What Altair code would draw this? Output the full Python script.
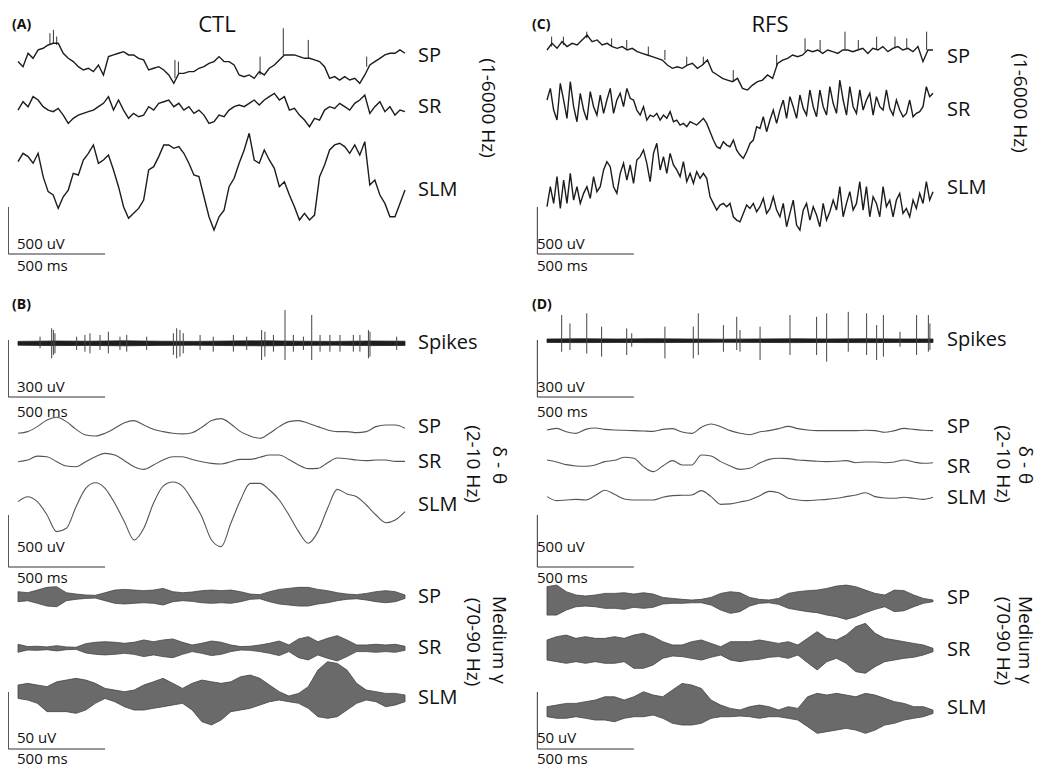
import altair as alt
import numpy as np
import pandas as pd

# ---------------- data (values in µV) ----------------
# wide-band (1-6000 Hz) traces, uniformly sampled over 0-2000 ms
raw_ctl_sp = [18,-36,107,53,142,160,195,213,213,107,53,18,-36,-71,-53,-89,-18,-124,71,89,
              107,124,89,89,53,36,-71,-53,-36,-71,-124,-213,-107,-107,-89,-89,-53,-36,0,18,
              71,18,18,-18,-124,-142,-124,-160,-89,-124,-53,-18,36,89,89,89,71,53,53,36,
              18,-36,-160,-142,-178,-142,-178,-160,-213,-124,-18,18,53,89,107,107,142,107]
raw_ctl_sr = [-36,53,0,107,71,0,-36,-53,-18,-89,-178,-124,-89,-71,-53,-36,0,36,107,-36,
              71,-36,-124,-71,-107,-89,0,-36,36,53,71,0,36,-36,0,-71,-36,-89,-178,-160,
              -89,-107,-36,0,18,0,36,71,18,71,107,142,71,107,-36,-18,-89,-142,-213,-124,
              -142,-36,0,-18,36,0,-36,36,71,124,-71,0,53,-53,0,-89,-36,-53]
raw_ctl_slm = [195,284,249,178,284,36,-124,-160,-302,-178,-107,71,53,213,284,373,178,213,266,107,
               -71,-284,-408,-355,-302,-213,107,142,249,373,373,337,355,284,178,53,36,-178,-391,-533,
               -391,-320,-71,18,178,320,497,213,178,320,213,124,-71,-18,-160,-284,-426,-355,-426,-373,
               36,160,320,373,391,355,284,373,266,408,-53,0,-160,-249,-391,-391,-249,-107]
raw_rfs_sp = [0,71,18,89,36,71,53,107,160,89,107,53,71,36,18,36,0,18,-18,-36,
              -53,-71,-89,-107,-160,-195,-178,-195,-160,-142,-195,-160,-107,-231,-266,-302,-320,-337,-302,-408,
              -426,-373,-337,-320,-266,-302,-142,-107,-89,-53,-71,-53,0,-18,0,-36,0,-18,-36,0,
              0,-18,0,18,-36,18,0,36,-18,18,36,0,18,-18,36,-124,0,0]
raw_rfs_sr = [71,195,-36,-142,249,71,-124,266,0,-160,142,-36,-142,160,0,-89,124,-71,71,195,
              -71,71,142,0,195,89,71,-36,-89,0,-142,-89,-107,-71,-142,-89,-124,-53,-160,-142,
              -195,-178,-213,-160,-178,-195,-160,-124,-178,-266,-355,-426,-444,-373,-408,-426,-355,-462,-515,-550,
              -479,-391,-355,-213,-231,-107,-266,-142,-36,-178,-36,71,-124,107,0,-124,124,-18,-89,178,
              0,-107,178,0,-89,213,36,-71,284,71,-89,213,0,-71,178,-36,71,142,-89,107,
              0,-36,178,-18,-89,71,-36,-107,-71,71,-107,-71,-53,0,213,107,142]
raw_rfs_slm = [-213,0,-178,107,-231,71,-178,142,-142,0,-178,-71,0,-124,107,-53,0,178,266,213,
               0,-71,142,249,71,231,36,284,320,391,249,53,355,462,178,320,142,355,231,178,
               107,266,53,142,36,160,89,142,89,-107,-178,-249,-195,-178,-213,-178,-320,-355,-373,-284,
               -195,-231,-178,-266,-213,-124,-284,-231,-107,-249,-320,-178,-426,-284,-142,-408,-462,-249,-178,-355,
               -213,-302,-426,-178,-355,-266,-142,-249,0,-320,-178,-53,-249,-178,53,-249,0,-320,-107,-178,
               -320,0,-213,-142,-320,-142,-71,-284,-231,-320,-142,-231,-71,-178,53,-142,-53]

# fast transients riding on the SP wide-band traces: time (ms), from (µV), tip (µV)
tr_ctl_t = [165,183,200,811,829,1251,1371,1500,1802]
tr_ctl_from = [195,213,195,-160,-107,-124,89,53,-36]
tr_ctl_tip = [320,355,284,36,18,71,373,249,71]
tr_rfs_t = [24,85,206,335,413,525,611,724,810,965,1190,1337,1415,1544,1613,1708,1803,1864,1967]
tr_rfs_from = [36,53,124,36,0,-53,-107,-160,-160,-337,-178,-18,-18,0,0,0,18,18,0]
tr_rfs_tip = [142,142,195,124,107,36,0,-71,-71,-213,-53,124,107,195,107,142,142,124,195]

# spikes: time (ms), top and bottom deflection (µV)
spk_ctl_t = [114,174,183,191,303,346,372,424,467,527,562,665,803,820,837,854,941,1009,1113,1182,
             1259,1276,1320,1380,1423,1475,1518,1561,1612,1664,1733,1767,1811,1819,1957]
spk_ctl_top = [35,79,70,53,35,44,53,44,61,35,44,35,53,79,70,53,44,35,44,35,
               70,61,44,175,44,35,149,44,44,44,44,44,70,61,35]
spk_ctl_bot = [-26,-79,-61,-53,-35,-44,-53,-35,-53,-35,-44,-35,-61,-79,-70,-53,-35,-44,-44,-35,
               -88,-70,-44,-88,-44,-35,-88,-44,-44,-44,-44,-44,-79,-70,-35]
spk_rfs_t = [76,119,206,283,413,439,611,758,784,914,983,1000,1104,1259,1397,1449,1561,1656,1708,1743,
             1829,1915,1976,1984]
spk_rfs_top = [135,91,144,74,65,39,74,74,144,82,126,56,74,135,126,144,152,144,82,135,47,135,135,91]
spk_rfs_bot = [-58,-49,-67,-84,-75,-32,-93,-93,-75,-58,-49,-58,-102,-75,-75,-110,-58,-75,-102,-84,
               -32,-75,-58,-49]
band_ctl_hi = [10,12,11,13,11,10,12,13,11,10,12,11]
band_ctl_lo = [-10,-12,-11,-13,-11,-10,-12,-13,-11,-10,-12,-11]
band_rfs_hi = [9,10,9,10,9,8,9,10,9,10,9,9]
band_rfs_lo = [-9,-10,-9,-10,-9,-8,-9,-10,-9,-10,-9,-9]

# delta-theta (2-10 Hz) traces
dt_ctl_sp = [-48,-32,16,80,106,64,-10,-64,-74,-48,0,54,74,32,-10,-32,-48,-54,-42,10,
             74,93,42,-32,-74,-96,-48,16,64,74,48,16,-16,-32,-32,-42,-32,16,32,32,0]
dt_ctl_sr = [0,16,54,48,0,-42,-48,0,48,80,64,10,-48,-74,-32,16,48,48,22,0,
             -16,-22,0,22,22,42,64,64,22,-32,-67,-64,-10,35,29,16,10,16,16,3,3]
dt_ctl_slm = [80,128,80,-48,-208,-176,32,208,262,208,64,-112,-288,-176,64,230,269,230,96,-64,
              -288,-352,-128,96,256,256,192,96,-48,-208,-320,-208,16,198,154,128,48,-48,-122,-96,-16]
dt_rfs_sp = [0,16,-16,-32,6,19,6,0,-3,-6,-10,-13,6,13,-19,-32,26,58,32,-6,
             -32,-45,-19,-6,13,35,13,0,-6,-6,-6,-6,-6,-3,-6,-22,-6,16,6,-3,-6]
dt_rfs_sr = [32,13,-13,-26,-29,-16,16,29,58,48,-32,-80,-26,26,-16,-16,80,70,16,-26,
             -58,-48,0,38,48,45,32,26,19,16,19,26,6,13,13,6,13,32,13,0,6]
dt_rfs_slm = [16,-22,-16,-10,-16,26,77,38,-6,-16,-16,-16,10,26,29,32,74,16,-58,-54,
              -35,-16,22,67,54,0,-16,-22,-16,-10,0,16,32,54,16,3,0,10,0,-10,10]

# medium gamma (70-90 Hz): upper / lower envelope (µV)
g_ctl_sp_hi = [4.4,3.5,5.8,8.2,8.8,3.5,2.3,1.5,1.2,3.5,5.8,6.4,5.8,5.3,5.8,7.3,4.4,3.5,4.1,5.3,
               5.8,5.3,5.8,4.4,2.3,1.8,4.4,6.4,7.3,8.2,8.2,6.4,5.3,3.5,2.3,1.8,2.9,4.4,5.3,4.4,1.5]
g_ctl_sp_lo = [-4.4,-3.5,-5.8,-8.2,-8.8,-3.5,-2.3,-1.5,-1.2,-3.5,-5.8,-6.4,-5.8,-5.3,-5.8,-7.3,-4.4,-3.5,-4.1,-5.3,
               -5.8,-5.3,-5.8,-4.4,-2.3,-1.8,-4.4,-6.4,-7.3,-8.2,-8.2,-6.4,-5.3,-3.5,-2.3,-1.8,-2.9,-4.4,-5.3,-4.4,-1.5]
g_ctl_sr_hi = [3.5,1.5,1.8,1.2,2.3,1.2,0.9,4.1,5.3,5.8,5.3,4.4,5.3,7.3,5.8,7.3,8.2,5.3,2.9,4.4,
               6.4,5.3,2.9,1.5,1.8,2.9,4.4,6.4,2.9,8.2,10.2,5.8,8.8,11.1,7.3,2.9,2.9,3.5,2.9,3.5,1.8]
g_ctl_sr_lo = [-3.5,-1.5,-1.8,-1.2,-2.3,-1.2,-0.9,-4.1,-5.3,-5.8,-5.3,-4.4,-5.3,-7.3,-5.8,-7.3,-8.2,-5.3,-2.9,-4.4,
               -6.4,-5.3,-2.9,-1.5,-1.8,-2.9,-4.4,-6.4,-2.9,-8.2,-10.2,-5.8,-8.8,-11.1,-7.3,-2.9,-2.9,-3.5,-2.9,-3.5,-1.8]
g_ctl_slm_hi = [10.2,11.7,10.2,8.8,13.1,14.6,16.1,14.6,11.7,7.3,5.8,4.4,5.8,10.2,13.1,16.1,11.7,7.3,11.7,14.6,
                13.1,11.7,13.1,17.5,19.0,16.1,10.2,4.4,0.6,2.9,8.8,23.4,30.7,29.2,23.4,11.7,5.8,4.4,2.9,2.9,1.5]
g_ctl_slm_lo = [-1.5,-2.9,-5.8,-13.1,-13.1,-13.1,-14.6,-11.7,-5.8,-1.5,-4.4,-8.8,-11.7,-11.7,-10.2,-8.8,-7.3,-5.8,-11.7,-21.9,
                -24.8,-20.4,-13.1,-11.7,-10.2,-7.3,-4.4,-2.9,-4.4,-5.8,-10.2,-17.5,-19.0,-17.5,-11.7,-5.8,-2.9,-4.4,-8.8,-7.3,-4.4]
g_rfs_sp_hi = [12.3,13.7,7.9,5.0,4.1,5.0,6.4,6.4,7.0,5.8,7.0,5.8,2.9,2.0,1.2,0.6,1.2,2.9,6.4,7.9,
               7.0,2.9,1.2,0.6,2.0,6.4,7.9,8.8,9.3,10.8,12.8,13.7,12.3,9.3,6.4,5.0,9.3,8.8,5.0,2.0,0.6]
g_rfs_sp_lo = [-12.6,-12.6,-8.2,-5.3,-4.7,-5.3,-6.7,-6.7,-7.6,-5.8,-6.7,-5.8,-2.9,-2.3,-2.3,-1.8,-1.8,-3.8,-8.2,-11.1,
               -9.6,-4.7,-2.3,-1.8,-3.2,-6.7,-8.2,-9.6,-10.5,-12.6,-14.0,-16.4,-14.0,-10.5,-7.6,-5.3,-9.6,-8.8,-5.3,-2.3,-0.9]
g_rfs_sr_hi = [8.8,11.7,13.1,10.2,11.7,10.2,10.2,11.7,10.2,13.1,14.6,11.7,7.3,4.4,4.4,7.3,8.8,5.8,2.9,7.3,
               7.3,7.3,8.8,7.3,5.8,7.3,4.4,10.2,16.1,10.2,8.8,13.1,20.4,23.4,14.6,10.2,8.8,7.3,5.8,4.4,1.5]
g_rfs_sr_lo = [-8.8,-10.2,-11.7,-10.2,-11.7,-10.2,-11.7,-11.7,-10.2,-16.1,-16.1,-13.1,-7.3,-5.3,-5.8,-7.3,-8.8,-6.4,-4.4,-8.8,
               -10.2,-8.8,-8.2,-6.4,-5.8,-7.3,-4.4,-11.1,-17.5,-10.2,-7.3,-11.7,-19.0,-20.4,-14.6,-10.2,-8.8,-7.3,-6.4,-4.4,-1.5]
g_rfs_slm_hi = [4.4,5.8,7.3,7.3,8.8,10.2,13.1,13.1,10.2,13.1,17.5,14.6,13.1,19.0,24.8,23.4,20.4,10.2,5.8,2.9,
                1.5,4.4,5.8,4.4,1.5,4.4,2.9,13.1,16.1,14.6,16.1,14.6,13.1,16.1,14.6,11.7,8.8,7.3,4.4,4.4,1.5]
g_rfs_slm_lo = [-4.4,-5.8,-5.8,-4.4,-5.8,-7.3,-7.3,-8.8,-5.8,-4.4,-4.4,-2.9,-5.8,-10.2,-11.7,-11.7,-10.2,-5.8,-4.4,-4.4,
                -3.8,-4.4,-5.8,-4.4,-4.4,-5.8,-7.3,-13.1,-19.0,-17.5,-16.1,-14.6,-16.1,-19.0,-16.1,-11.7,-10.2,-7.3,-5.8,-4.4,-1.5]

layer_names = ["SP", "SR", "SLM"]

# ---------------- layout ----------------
H = 760
G_RAW, G_SPK, G_DT, G_GAM = 0.094, 0.19, 0.104, 1.14   # px per µV in each block
FONT = "Open Sans"
INK = "#111111"

SIDES = {
    "ctl": dict(x0=18, px=0.1935, page_left=8, width=520),
    "rfs": dict(x0=547, px=0.193, page_left=528, width=514),
}


def tx(side, page_x):
    s = SIDES[side]
    return (page_x - s["x0"]) / s["px"]


def line_df(vals, base, gain, name):
    v = np.array(vals, dtype=float)
    t = np.linspace(0, 2000, len(v))
    return pd.DataFrame({"t": t, "y": base - v * gain, "trace": name})


def env_df(hi, lo, base, gain, name):
    t = np.linspace(0, 2000, len(hi))
    return pd.DataFrame({"t": t, "yu": base - np.array(hi) * gain,
                         "yl": base - np.array(lo) * gain, "trace": name})


def build(side, raw, raw_base, trans, spk, band, spk_base, dt, dt_base, gam, gam_base,
          labels, title, letters, rot):
    s = SIDES[side]
    lo = (s["page_left"] - s["x0"]) / s["px"]
    hi = (s["page_left"] + s["width"] - s["x0"]) / s["px"]
    xs = alt.Scale(domain=[lo, hi], nice=False, zero=False)
    ys = alt.Scale(domain=[0, H], nice=False, zero=False, reverse=True)
    X = lambda f: alt.X(f, scale=xs, axis=None)
    Y = lambda f: alt.Y(f, scale=ys, axis=None)

    raw_df = pd.concat([line_df(v, b, G_RAW, side + n) for v, b, n in zip(raw, raw_base, layer_names)])
    tt, tf, tp = trans
    tr_df = pd.DataFrame({"t": tt, "y1": raw_base[0] - np.array(tf) * G_RAW,
                          "y2": raw_base[0] - np.array(tp) * G_RAW})
    dt_df = pd.concat([line_df(v, b, G_DT, side + n) for v, b, n in zip(dt, dt_base, layer_names)])
    gam_df = pd.concat([env_df(h, l, b, G_GAM, side + n) for (h, l), b, n in zip(gam, gam_base, layer_names)])
    band_df = env_df(band[0], band[1], spk_base, G_SPK, side + "band")
    st, stop, sbot = spk
    spk_df = pd.DataFrame({"t": st, "yt": spk_base - np.array(stop) * G_SPK,
                           "yb": spk_base - np.array(sbot) * G_SPK})

    # scale bars: 500 ms wide, heights in µV of each block
    bars = []
    for bottom, uv, gain in [(246, 500, G_RAW), (389, 300, G_SPK), (559, 500, G_DT), (741, 50, G_GAM)]:
        bars.append(dict(x=-50, x2=-50, y=bottom - uv * gain, y2=bottom))
        bars.append(dict(x=-50, x2=450, y=bottom, y2=bottom))
    bar_df = pd.DataFrame(bars)

    tx_page = s["page_left"] + 9
    scale_txt = pd.DataFrame([
        dict(x=tx(side, tx_page), y=236, text="500 uV"), dict(x=tx(side, tx_page), y=258, text="500 ms"),
        dict(x=tx(side, tx_page), y=379, text="300 uV"), dict(x=tx(side, tx_page), y=404, text="500 ms"),
        dict(x=tx(side, tx_page), y=539, text="500 uV"), dict(x=tx(side, tx_page), y=570, text="500 ms"),
        dict(x=tx(side, tx_page), y=730, text="50 uV"), dict(x=tx(side, tx_page), y=751, text="500 ms"),
    ])
    lab_x = s["x0"] + 400
    lab_df = pd.DataFrame([dict(x=tx(side, lab_x), y=yy, text=tt_) for tt_, yy in labels])
    title_df = pd.DataFrame([dict(x=tx(side, title[1]), y=17, text=title[0])])
    let_df = pd.DataFrame([dict(x=tx(side, s["page_left"] + 4), y=17, text=letters[0]),
                           dict(x=tx(side, s["page_left"] + 4), y=297, text=letters[1])])
    rot_df = pd.DataFrame([dict(x=tx(side, px_), y=yy, text=tt_) for tt_, px_, yy in rot])

    layers = [
        alt.Chart(gam_df).mark_area(color="#6a6a6a", stroke="#444444", strokeWidth=0.8, clip=True)
        .encode(x=X("t:Q"), y=Y("yu:Q"), y2="yl:Q", detail="trace:N"),
        alt.Chart(band_df).mark_area(color="#1e1e1e", stroke="#1e1e1e", strokeWidth=0.8, clip=True)
        .encode(x=X("t:Q"), y=Y("yu:Q"), y2="yl:Q"),
        alt.Chart(spk_df).mark_rule(color="#444444", strokeWidth=1, clip=True)
        .encode(x=X("t:Q"), y=Y("yt:Q"), y2="yb:Q"),
        alt.Chart(tr_df).mark_rule(color="#333333", strokeWidth=1, clip=True)
        .encode(x=X("t:Q"), y=Y("y1:Q"), y2="y2:Q"),
        alt.Chart(raw_df).mark_line(color="#1c1c1c", strokeWidth=1.4, clip=True)
        .encode(x=X("t:Q"), y=Y("y:Q"), detail="trace:N", order="t:Q"),
        alt.Chart(dt_df).mark_line(color="#555555", strokeWidth=1.1, interpolate="monotone", clip=True)
        .encode(x=X("t:Q"), y=Y("y:Q"), detail="trace:N", order="t:Q"),
        alt.Chart(bar_df).mark_rule(color="#333333", strokeWidth=1, clip=True)
        .encode(x=X("x:Q"), x2="x2:Q", y=Y("y:Q"), y2="y2:Q"),
        alt.Chart(scale_txt).mark_text(font=FONT, fontSize=15, color=INK, align="left",
                                       baseline="middle", clip=True)
        .encode(x=X("x:Q"), y=Y("y:Q"), text="text:N"),
        alt.Chart(lab_df).mark_text(font=FONT, fontSize=20, color=INK, align="left",
                                    baseline="middle", clip=True)
        .encode(x=X("x:Q"), y=Y("y:Q"), text="text:N"),
        alt.Chart(title_df).mark_text(font=FONT, fontSize=22, color=INK, align="center",
                                      baseline="middle", clip=True)
        .encode(x=X("x:Q"), y=Y("y:Q"), text="text:N"),
        alt.Chart(let_df).mark_text(font=FONT, fontSize=14, fontWeight="bold", color=INK,
                                    align="left", baseline="middle", clip=True)
        .encode(x=X("x:Q"), y=Y("y:Q"), text="text:N"),
        alt.Chart(rot_df).mark_text(font=FONT, fontSize=19, color=INK, align="center",
                                    baseline="middle", angle=90, clip=True)
        .encode(x=X("x:Q"), y=Y("y:Q"), text="text:N"),
    ]
    return alt.layer(*layers).properties(width=s["width"], height=H)


left = build(
    "ctl",
    [raw_ctl_sp, raw_ctl_sr, raw_ctl_slm], [55.3, 98.7, 172],
    (tr_ctl_t, tr_ctl_from, tr_ctl_tip),
    (spk_ctl_t, spk_ctl_top, spk_ctl_bot), (band_ctl_hi, band_ctl_lo), 335.3,
    [dt_ctl_sp, dt_ctl_sr, dt_ctl_slm], [420.3, 453.7, 502],
    [(g_ctl_sp_hi, g_ctl_sp_lo), (g_ctl_sr_hi, g_ctl_sr_lo), (g_ctl_slm_hi, g_ctl_slm_lo)],
    [588.7, 640.3, 688.7],
    [("SP", 48), ("SR", 99), ("SLM", 182), ("Spikes", 335), ("SP", 419), ("SR", 454), ("SLM", 497),
     ("SP", 589), ("SR", 640), ("SLM", 690)],
    ("CTL", 217), ("(A)", "(B)"),
    [("(1-6000 Hz)", 488, 100), ("(2-10 Hz)", 473, 456), ("δ - θ", 499, 457),
     ("(70-90 Hz)", 473, 634), ("Medium γ", 499, 632)],
)

right = build(
    "rfs",
    [raw_rfs_sp, raw_rfs_sr, raw_rfs_slm], [42, 98.7, 178.7],
    (tr_rfs_t, tr_rfs_from, tr_rfs_tip),
    (spk_rfs_t, spk_rfs_top, spk_rfs_bot), (band_rfs_hi, band_rfs_lo), 332.7,
    [dt_rfs_sp, dt_rfs_sr, dt_rfs_slm], [422, 455.3, 490.3],
    [(g_rfs_sp_hi, g_rfs_sp_lo), (g_rfs_sr_hi, g_rfs_sr_lo), (g_rfs_slm_hi, g_rfs_slm_lo)],
    [592.7, 642, 703.7],
    [("SP", 49), ("SR", 102), ("SLM", 180), ("Spikes", 332), ("SP", 419), ("SR", 459), ("SLM", 490),
     ("SP", 590), ("SR", 642), ("SLM", 700)],
    ("RFS", 770), ("(C)", "(D)"),
    [("(1-6000 Hz)", 1020, 95), ("(2-10 Hz)", 1003, 456), ("δ - θ", 1025, 457),
     ("(70-90 Hz)", 1003, 633), ("Medium γ", 1025, 632)],
)

chart = (
    alt.hconcat(left, right, spacing=0)
    .properties(padding=0, background="white")
    .configure_view(stroke=None)
)

chart.save("out.html", embed_options={"renderer": "svg", "actions": False})
